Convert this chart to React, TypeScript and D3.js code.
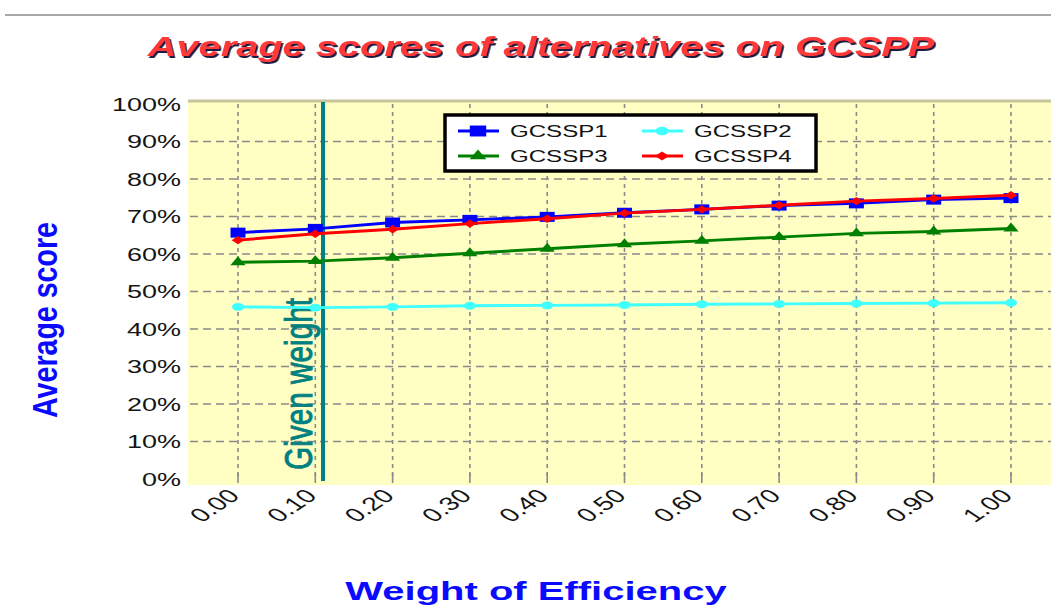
import React from 'react';
import * as d3 from 'd3';

// weights of efficiency (x categories)
const weights = [0, 0.1, 0.2, 0.3, 0.4, 0.5, 0.6, 0.7, 0.8, 0.9, 1.0];
const yTicks = [0, 10, 20, 30, 40, 50, 60, 70, 80, 90, 100];

// average scores (%)
const gcssp1 = [65.7, 66.7, 68.4, 69.1, 69.9, 71.0, 71.9, 72.9, 73.5, 74.5, 74.9];
const gcssp2 = [45.9, 45.7, 45.9, 46.2, 46.3, 46.4, 46.6, 46.7, 46.8, 46.9, 47.0];
const gcssp3 = [57.8, 58.1, 59.0, 60.2, 61.4, 62.6, 63.5, 64.5, 65.5, 66.0, 66.8];
const gcssp4 = [63.7, 65.4, 66.6, 68.1, 69.4, 70.9, 71.9, 73.0, 74.1, 74.8, 75.7];

const seriesNames = ['GCSSP1', 'GCSSP2', 'GCSSP3', 'GCSSP4'];
const givenWeight = 0.11;

const FONT = '"Liberation Sans", Arial, sans-serif';

const series = [
  { name: seriesNames[0], values: gcssp1, color: '#0000ff', symbol: d3.symbolSquare, size: 100 },
  { name: seriesNames[1], values: gcssp2, color: '#40ffff', symbol: d3.symbolCircle, size: 50 },
  { name: seriesNames[2], values: gcssp3, color: '#008000', symbol: d3.symbolTriangle, size: 45 },
  { name: seriesNames[3], values: gcssp4, color: '#ff0000', symbol: d3.symbolDiamond2, size: 45 },
];

// the picture is stretched sideways, so text and markers get a horizontal scale
const Stretch = ({ x, y, sx, rot = 0, children }: any) => (
  <g transform={`translate(${x},${y}) scale(${sx},1) rotate(${rot})`}>{children}</g>
);

const App = () => {
  const width = 1051;
  const height = 612;
  const plot = { left: 188, right: 1051, top: 101, bottom: 485 };

  const x = d3.scaleLinear().domain([0, 1]).range([238, 1011]);
  const y = d3.scaleLinear().domain([0, 100]).range([479, 104]);

  const line = d3.line<number>()
    .x((d, i) => x(weights[i]))
    .y(d => y(d));

  const fmt = d3.format('.2f');

  return (
    <svg width={width} height={height} style={{ position: 'absolute', left: 0, top: 0, background: '#fff' }}>
      <defs>
        <filter id="shadow" x="-5%" y="-20%" width="110%" height="150%">
          <feDropShadow dx={1.2} dy={2} stdDeviation={0.4} floodColor="#1a1a40" floodOpacity={1} />
        </filter>
      </defs>

      {/* top rule */}
      <line x1={5} x2={width} y1={15} y2={15} stroke="#a8a8a8" strokeWidth={2} />

      {/* title */}
      <Stretch x={541} y={56} sx={1.42}>
        <text textAnchor="middle" fontFamily={FONT} fontSize={28} fontWeight="bold"
          fontStyle="italic" fill="#ff3838" filter="url(#shadow)">Average scores of alternatives on GCSPP</text>
      </Stretch>

      {/* plot area */}
      <rect x={plot.left} y={plot.top} width={plot.right - plot.left} height={plot.bottom - plot.top} fill="#ffffc4" />
      <line x1={plot.left} x2={plot.right} y1={plot.top} y2={plot.top} stroke="#c8c49c" strokeWidth={3} />

      {/* grid */}
      {yTicks.filter(t => t > 0 && t < 100).map(t => (
        <line key={'h' + t} x1={plot.left + 2} x2={plot.right} y1={y(t)} y2={y(t)}
          stroke="#8a8a8a" strokeWidth={1.6} strokeDasharray="8 5" />
      ))}
      {weights.map(w => (
        <g key={'v' + w}>
          <line x1={x(w)} x2={x(w)} y1={y(100)} y2={y(0)}
            stroke="#8a8a8a" strokeWidth={1.6} strokeDasharray="4 4" />
          <line x1={x(w)} x2={x(w)} y1={y(0) - 6} y2={y(0) + 4} stroke="#8a8a8a" strokeWidth={1.6} />
        </g>
      ))}

      {/* given weight marker */}
      <line x1={x(givenWeight)} x2={x(givenWeight)} y1={y(100) - 2} y2={y(0) + 2} stroke="#008080" strokeWidth={4} />
      <Stretch x={312} y={384} sx={1.6} rot={-90}>
        <text textAnchor="middle" fontFamily={FONT} fontSize={24} fill="#008080" stroke="#008080" strokeWidth={0.6}
          textLength={172} lengthAdjust="spacingAndGlyphs">Given weight</text>
      </Stretch>

      {/* series */}
      {series.map(s => (
        <g key={s.name}>
          <path d={line(s.values) || ''} fill="none" stroke={s.color} strokeWidth={3} />
          {s.values.map((v, i) => (
            <Stretch key={i} x={x(weights[i])} y={y(v)} sx={1.5}>
              <path d={d3.symbol().type(s.symbol).size(s.size)() || ''} fill={s.color} />
            </Stretch>
          ))}
        </g>
      ))}

      {/* y tick labels */}
      {yTicks.map(t => (
        <Stretch key={'yl' + t} x={181} y={y(t) + 6.5} sx={1.5}>
          <text textAnchor="end" fontFamily={FONT} fontSize={18} fill="#141414">{t + '%'}</text>
        </Stretch>
      ))}

      {/* x tick labels */}
      {weights.map(w => (
        <Stretch key={'xl' + w} x={x(w) + 3} y={497} sx={1.5} rot={-45}>
          <text textAnchor="end" fontFamily={FONT} fontSize={19} fill="#141414">{fmt(w)}</text>
        </Stretch>
      ))}

      {/* axis titles */}
      <Stretch x={57} y={320} sx={1.5} rot={-90}>
        <text textAnchor="middle" fontFamily={FONT} fontSize={23} fontWeight="bold" fill="#0a0aff"
          textLength={196} lengthAdjust="spacingAndGlyphs">Average score</text>
      </Stretch>
      <Stretch x={536} y={600} sx={1.6}>
        <text textAnchor="middle" fontFamily={FONT} fontSize={25} fontWeight="bold" fill="#0a0aff">
          Weight of Efficiency
        </text>
      </Stretch>

      {/* legend */}
      <rect x={445} y={115} width={371} height={56} fill="#fff" stroke="#000" strokeWidth={3.5} />
      {series.map((s, i) => {
        const lx = i % 2 === 0 ? 458 : 642;
        const ly = i < 2 ? 131 : 156;
        return (
          <g key={'lg' + s.name}>
            <line x1={lx} x2={lx + 41} y1={ly} y2={ly} stroke={s.color} strokeWidth={3} />
            <Stretch x={lx + 20} y={ly} sx={1.5}>
              <path d={d3.symbol().type(s.symbol).size(s.size * 1.2)() || ''} fill={s.color} />
            </Stretch>
            <Stretch x={lx + 52} y={ly + 6} sx={1.46}>
              <text fontFamily={FONT} fontSize={16.5} fill="#141414">{s.name}</text>
            </Stretch>
          </g>
        );
      })}
    </svg>
  );
};

export default App;
